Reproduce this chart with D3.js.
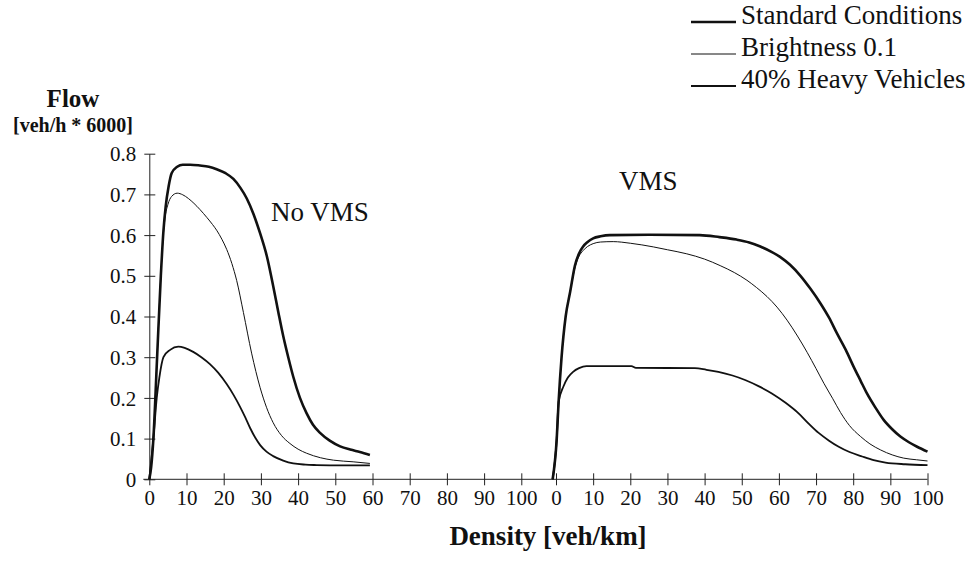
<!DOCTYPE html>
<html>
<head>
<meta charset="utf-8">
<script src="https://cdn.jsdelivr.net/npm/d3@7"></script>
<style>
  html, body { margin: 0; padding: 0; background: #fff; }
  svg text { font-family: "Liberation Serif", "Times New Roman", serif; fill: #111; }
</style>
</head>
<body>
<svg id="chart" width="967" height="561"></svg>
<script>
"use strict";

// Tick labels for both halves of the density axis
var densityTicks = [0, 10, 20, 30, 40, 50, 60, 70, 80, 90, 100];
var flowTicks = [0, 0.1, 0.2, 0.3, 0.4, 0.5, 0.6, 0.7, 0.8];

var seriesNames = ["Standard Conditions", "Brightness 0.1", "40% Heavy Vehicles"];

// No VMS panel: [density, flow]
var noVmsStandard = [[0,0],[0.5,0.03],[1.1,0.1],[2.1,0.3],[3.1,0.5],[3.8,0.61],[4.4,0.67],[5.2,0.72],[6,0.752],[7.5,0.768],[9,0.773],[11,0.773],[13.6,0.771],[16,0.768],[18.1,0.762],[20.5,0.752],[22.6,0.738],[24.5,0.716],[26.2,0.69],[28,0.652],[29.8,0.604],[31.6,0.548],[33.3,0.475],[34.7,0.41],[36,0.352],[37.4,0.298],[38.7,0.252],[40.5,0.2],[42.3,0.162],[44,0.134],[45.9,0.114],[48.5,0.095],[51.3,0.081],[54,0.073],[56.6,0.067],[59.3,0.06]];
var noVmsBrightness = [[0,0],[1.1,0.1],[2.1,0.3],[3.1,0.5],[3.6,0.58],[4.2,0.64],[5,0.675],[6,0.695],[7.5,0.703],[9,0.699],[10.5,0.69],[12,0.678],[13.6,0.663],[15.5,0.643],[17,0.626],[18.1,0.612],[19.5,0.59],[20.8,0.565],[22.2,0.53],[23.5,0.488],[25.3,0.41],[27.5,0.31],[29.8,0.225],[31.5,0.177],[33.3,0.139],[35.5,0.108],[37.8,0.088],[40,0.074],[42.3,0.064],[46,0.053],[49.5,0.047],[54.8,0.043],[59.3,0.039]];
var noVmsHeavy = [[0,0],[1.1,0.1],[2,0.2],[2.7,0.25],[3.8,0.3],[5.6,0.318],[7.8,0.326],[9.5,0.323],[11.8,0.313],[14,0.3],[16.3,0.283],[18.5,0.262],[20.8,0.234],[22.6,0.208],[24.4,0.178],[25.8,0.152],[27.1,0.126],[28.5,0.102],[29.8,0.084],[31.5,0.068],[33.3,0.057],[36,0.046],[38.7,0.039],[42,0.036],[45,0.035],[52,0.034],[59.3,0.034]];

// VMS panel: [density, flow]
var vmsStandard = [[-0.9,0],[0.2,0.1],[0.7,0.19],[1.5,0.3],[2.6,0.4],[3.8,0.46],[5.1,0.525],[6.2,0.555],[7.3,0.572],[8.5,0.583],[10,0.592],[12,0.597],[14.5,0.6],[25,0.601],[38.7,0.6],[44,0.595],[48.6,0.589],[52,0.582],[55,0.572],[58,0.559],[60.4,0.546],[63,0.527],[65.8,0.5],[68.5,0.468],[71.2,0.432],[73.5,0.397],[75.6,0.359],[78,0.318],[80.1,0.277],[82,0.242],[83.7,0.211],[86,0.176],[88.2,0.146],[90.5,0.123],[92.7,0.105],[95,0.091],[97.2,0.08],[100,0.068]];
var vmsBrightness = [[-0.9,0],[0.2,0.1],[0.7,0.19],[1.5,0.3],[2.6,0.4],[3.8,0.46],[5.1,0.52],[6.2,0.548],[7.3,0.562],[8.5,0.572],[10,0.579],[12,0.583],[15.4,0.584],[20,0.58],[26.2,0.571],[30,0.564],[35.2,0.554],[40,0.541],[44.2,0.525],[48,0.508],[51.4,0.489],[54,0.471],[56.8,0.449],[59.5,0.423],[62.2,0.391],[65,0.352],[67.6,0.312],[70,0.272],[72.1,0.236],[74.5,0.198],[76.6,0.164],[79,0.132],[82,0.105],[84.5,0.087],[87.4,0.072],[90.5,0.06],[93.6,0.052],[97,0.048],[100,0.045]];
var vmsHeavy = [[-0.9,0],[0.2,0.1],[0.7,0.19],[2,0.228],[3.2,0.25],[4.6,0.264],[6.2,0.273],[8.2,0.278],[20.3,0.278],[21.5,0.274],[37.4,0.273],[40.5,0.269],[43.7,0.264],[47.5,0.255],[50.9,0.244],[54.5,0.229],[58.1,0.211],[61.8,0.188],[65.3,0.162],[68,0.137],[70.7,0.114],[73.5,0.095],[76.1,0.08],[79,0.067],[82.4,0.056],[85.5,0.047],[88.7,0.041],[94,0.037],[100,0.035]];

// Line style per series (same order as seriesNames)
var seriesStroke = [2.6, 1, 1.8];

var svg = d3.select("#chart");

// Two density panels share the flow axis
var xLeft = d3.scaleLinear().domain([0, 100]).range([149.3, 521.3]);
var xRight = d3.scaleLinear().domain([0, 100]).range([556, 927.5]);
var y = d3.scaleLinear().domain([0, 0.8]).range([479.3, 153.7]);

// Flow axis, ticks cross the line
var yAxis = d3.axisLeft(y).tickValues(flowTicks).tickSizeInner(6).tickSizeOuter(0)
    .tickFormat(function(d){ return d === 0 ? "0" : d3.format(".1f")(d); });
var gy = svg.append("g").attr("transform", "translate(" + xLeft(0) + ",0)").call(yAxis);
gy.select(".domain").attr("stroke", "#222");
gy.selectAll(".tick line").attr("x1", -5).attr("x2", 6).attr("stroke", "#222");
gy.selectAll(".tick text").attr("x", -13).attr("dy", "0.34em")
    .style("font-size", "21px").style("font-family", "Liberation Serif").attr("fill", "#111");

// Density axis baseline
svg.append("line")
    .attr("x1", xLeft(0) - 6).attr("x2", xRight(100))
    .attr("y1", y(0)).attr("y2", y(0))
    .attr("stroke", "#222").attr("stroke-width", 1);

[xLeft, xRight].forEach(function(x){
    var xAxis = d3.axisBottom(x).tickValues(densityTicks).tickSizeInner(6).tickSizeOuter(0);
    var gx = svg.append("g").attr("transform", "translate(0," + y(0) + ")").call(xAxis);
    gx.select(".domain").remove();
    gx.selectAll(".tick line").attr("y1", -6).attr("y2", 6).attr("stroke", "#222");
    gx.selectAll(".tick text").attr("y", 11).attr("dy", "0.71em")
        .style("font-size", "21px").style("font-family", "Liberation Serif").attr("fill", "#111");
});

// Curves
function drawCurves(x, sets){
    var line = d3.line()
        .x(function(d){ return x(d[0]); })
        .y(function(d){ return y(d[1]); })
        .curve(d3.curveMonotoneX);
    sets.forEach(function(data, i){
        svg.append("path")
            .datum(data)
            .attr("d", line)
            .attr("fill", "none")
            .attr("stroke", "#111")
            .attr("stroke-width", seriesStroke[i])
            .attr("stroke-linejoin", "round");
    });
}
drawCurves(xLeft, [noVmsStandard, noVmsBrightness, noVmsHeavy]);
drawCurves(xRight, [vmsStandard, vmsBrightness, vmsHeavy]);

// Panel labels
svg.append("text").attr("x", 271).attr("y", 221).style("font-size", "27px").text("No VMS");
svg.append("text").attr("x", 619).attr("y", 190).style("font-size", "27px").text("VMS");

// Axis titles
svg.append("text").attr("x", 73).attr("y", 107).attr("text-anchor", "middle")
    .style("font-size", "25px").style("font-weight", "bold").text("Flow");
svg.append("text").attr("x", 73).attr("y", 132).attr("text-anchor", "middle")
    .style("font-size", "20px").style("font-weight", "bold").text("[veh/h * 6000]");
svg.append("text").attr("x", 548).attr("y", 545).attr("text-anchor", "middle")
    .style("font-size", "27px").style("font-weight", "bold").text("Density [veh/km]");

// Legend
var legend = svg.append("g").attr("transform", "translate(691,0)");
seriesNames.forEach(function(name, i){
    var ly = 22 + i * 32;
    legend.append("line")
        .attr("x1", 0).attr("x2", 45).attr("y1", ly).attr("y2", ly)
        .attr("stroke", "#111").attr("stroke-width", seriesStroke[i]);
    legend.append("text").attr("x", 50).attr("y", ly + 2)
        .style("font-size", "27px").text(name);
});
</script>
</body>
</html>
